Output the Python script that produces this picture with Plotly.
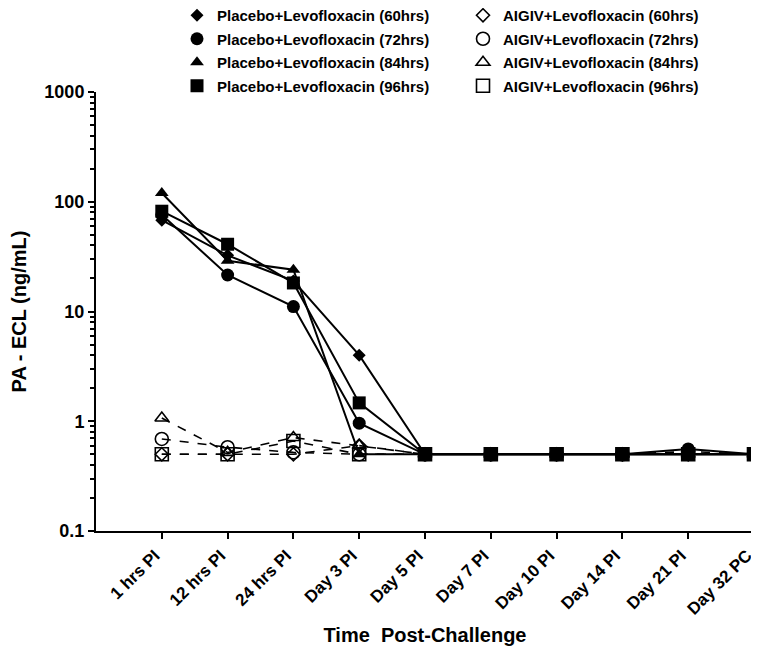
import plotly.graph_objects as go

categories = ["1 hrs PI", "12 hrs PI", "24 hrs PI", "Day 3 PI", "Day 5 PI",
              "Day 7 PI", "Day 10 PI", "Day 14 PI", "Day 21 PI", "Day 32 PC"]

placebo_60 = [68, 32.5, 19, 4.0, 0.5, 0.5, 0.5, 0.5, 0.5, 0.5]
placebo_72 = [76, 21.5, 11.1, 0.96, 0.5, 0.5, 0.5, 0.5, 0.56, 0.5]
placebo_84 = [120, 29, 24, 0.5, 0.5, 0.5, 0.5, 0.5, 0.5, 0.5]
placebo_96 = [82, 41, 18.2, 1.47, 0.5, 0.5, 0.5, 0.5, 0.5, 0.5]

aigiv_60 = [0.5, 0.5, 0.5, 0.6, 0.5, 0.5, 0.5, 0.5, 0.5, 0.5]
aigiv_72 = [0.69, 0.58, 0.52, 0.5, 0.5, 0.5, 0.5, 0.5, 0.53, 0.5]
aigiv_84 = [1.07, 0.52, 0.71, 0.6, 0.5, 0.5, 0.5, 0.5, 0.5, 0.5]
aigiv_96 = [0.5, 0.5, 0.66, 0.5, 0.5, 0.5, 0.5, 0.5, 0.5, 0.5]

y_ticks = [0.1, 1, 10, 100, 1000]
y_ticklabels = ["0.1", "1", "10", "100", "1000"]

FONT = "Liberation Sans, Arial, sans-serif"

placebo = [
    ("Placebo+Levofloxacin (60hrs)", placebo_60, "diamond", 10),
    ("Placebo+Levofloxacin (72hrs)", placebo_72, "circle", 13),
    ("Placebo+Levofloxacin (84hrs)", placebo_84, "triangle-up", 12),
    ("Placebo+Levofloxacin (96hrs)", placebo_96, "square", 13),
]
aigiv = [
    ("AIGIV+Levofloxacin (60hrs)", aigiv_60, "diamond-open", 10),
    ("AIGIV+Levofloxacin (72hrs)", aigiv_72, "circle-open", 13),
    ("AIGIV+Levofloxacin (84hrs)", aigiv_84, "triangle-up-open", 12),
    ("AIGIV+Levofloxacin (96hrs)", aigiv_96, "square-open", 13),
]

fig = go.Figure()

for name, vals, sym, sz in aigiv:
    fig.add_trace(go.Scatter(
        x=categories, y=vals, mode="lines+markers", showlegend=False,
        line=dict(color="black", width=1.6, dash="dash"),
        marker=dict(symbol=sym, size=sz, color="black", line=dict(color="black", width=1.6)),
        cliponaxis=False))

for name, vals, sym, sz in placebo:
    fig.add_trace(go.Scatter(
        x=categories, y=vals, mode="lines+markers", showlegend=False,
        line=dict(color="black", width=2),
        marker=dict(symbol=sym, size=sz, color="black"),
        cliponaxis=False))

for i, (name, vals, sym, sz) in enumerate(placebo):
    fig.add_trace(go.Scatter(
        x=[categories[0]], y=[None], mode="markers", name=name, legend="legend",
        legendgroup="p%d" % i,
        marker=dict(symbol=sym, size=sz, color="black")))
for i, (name, vals, sym, sz) in enumerate(aigiv):
    fig.add_trace(go.Scatter(
        x=[categories[0]], y=[None], mode="markers", name=name, legend="legend2",
        legendgroup="a%d" % i,
        marker=dict(symbol=sym, size=sz, color="black", line=dict(color="black", width=1.6))))

# plot area in pixels: x 88..746, y 84..523
PW, PH = 658.0, 439.0

legend_common = dict(
    font=dict(family=FONT, size=15, color="black", weight="bold"),
    bgcolor="rgba(0,0,0,0)", orientation="v", tracegroupgap=1,
    xanchor="left", yanchor="top", itemclick=False,
)

fig.update_layout(
    width=759, height=658,
    margin=dict(l=88, r=13, t=84, b=135, autoexpand=False),
    paper_bgcolor="white", plot_bgcolor="white",
    font=dict(family=FONT, color="black"),
    legend=dict(x=(169 - 88) / PW, y=(523 + 9) / PH, **legend_common),
    legend2=dict(x=(455 - 88) / PW, y=(523 + 9) / PH, **legend_common),
    xaxis=dict(
        type="category", categoryorder="array", categoryarray=categories,
        range=[-1.0, 9.0], showgrid=False, zeroline=False,
        showline=True, linecolor="black", linewidth=2,
        ticks="outside", ticklen=6, tickwidth=2, tickcolor="black",
        tickangle=-45, ticklabelshift=-7,
        tickfont=dict(family=FONT, size=17, color="black", weight="bold"),
        title=dict(text="Time  Post-Challenge", standoff=10,
                   font=dict(family=FONT, size=20, color="black", weight="bold")),
    ),
    yaxis=dict(
        type="log", range=[-1, 3], showgrid=False, zeroline=False,
        showline=True, linecolor="black", linewidth=2,
        tickmode="array", tickvals=y_ticks, ticktext=y_ticklabels,
        ticks="outside", ticklen=6, tickwidth=2, tickcolor="black",
        tickfont=dict(family=FONT, size=18, color="black", weight="bold"),
        minor=dict(tickmode="array",
                   tickvals=[m * 10 ** e for e in range(-1, 3) for m in range(2, 10)],
                   ticks="outside", ticklen=4, tickwidth=2, tickcolor="black",
                   showgrid=False),
        title=dict(text="PA - ECL (ng/mL)", standoff=14,
                   font=dict(family=FONT, size=20, color="black", weight="bold")),
    ),
)

fig.write_html("out.html")
